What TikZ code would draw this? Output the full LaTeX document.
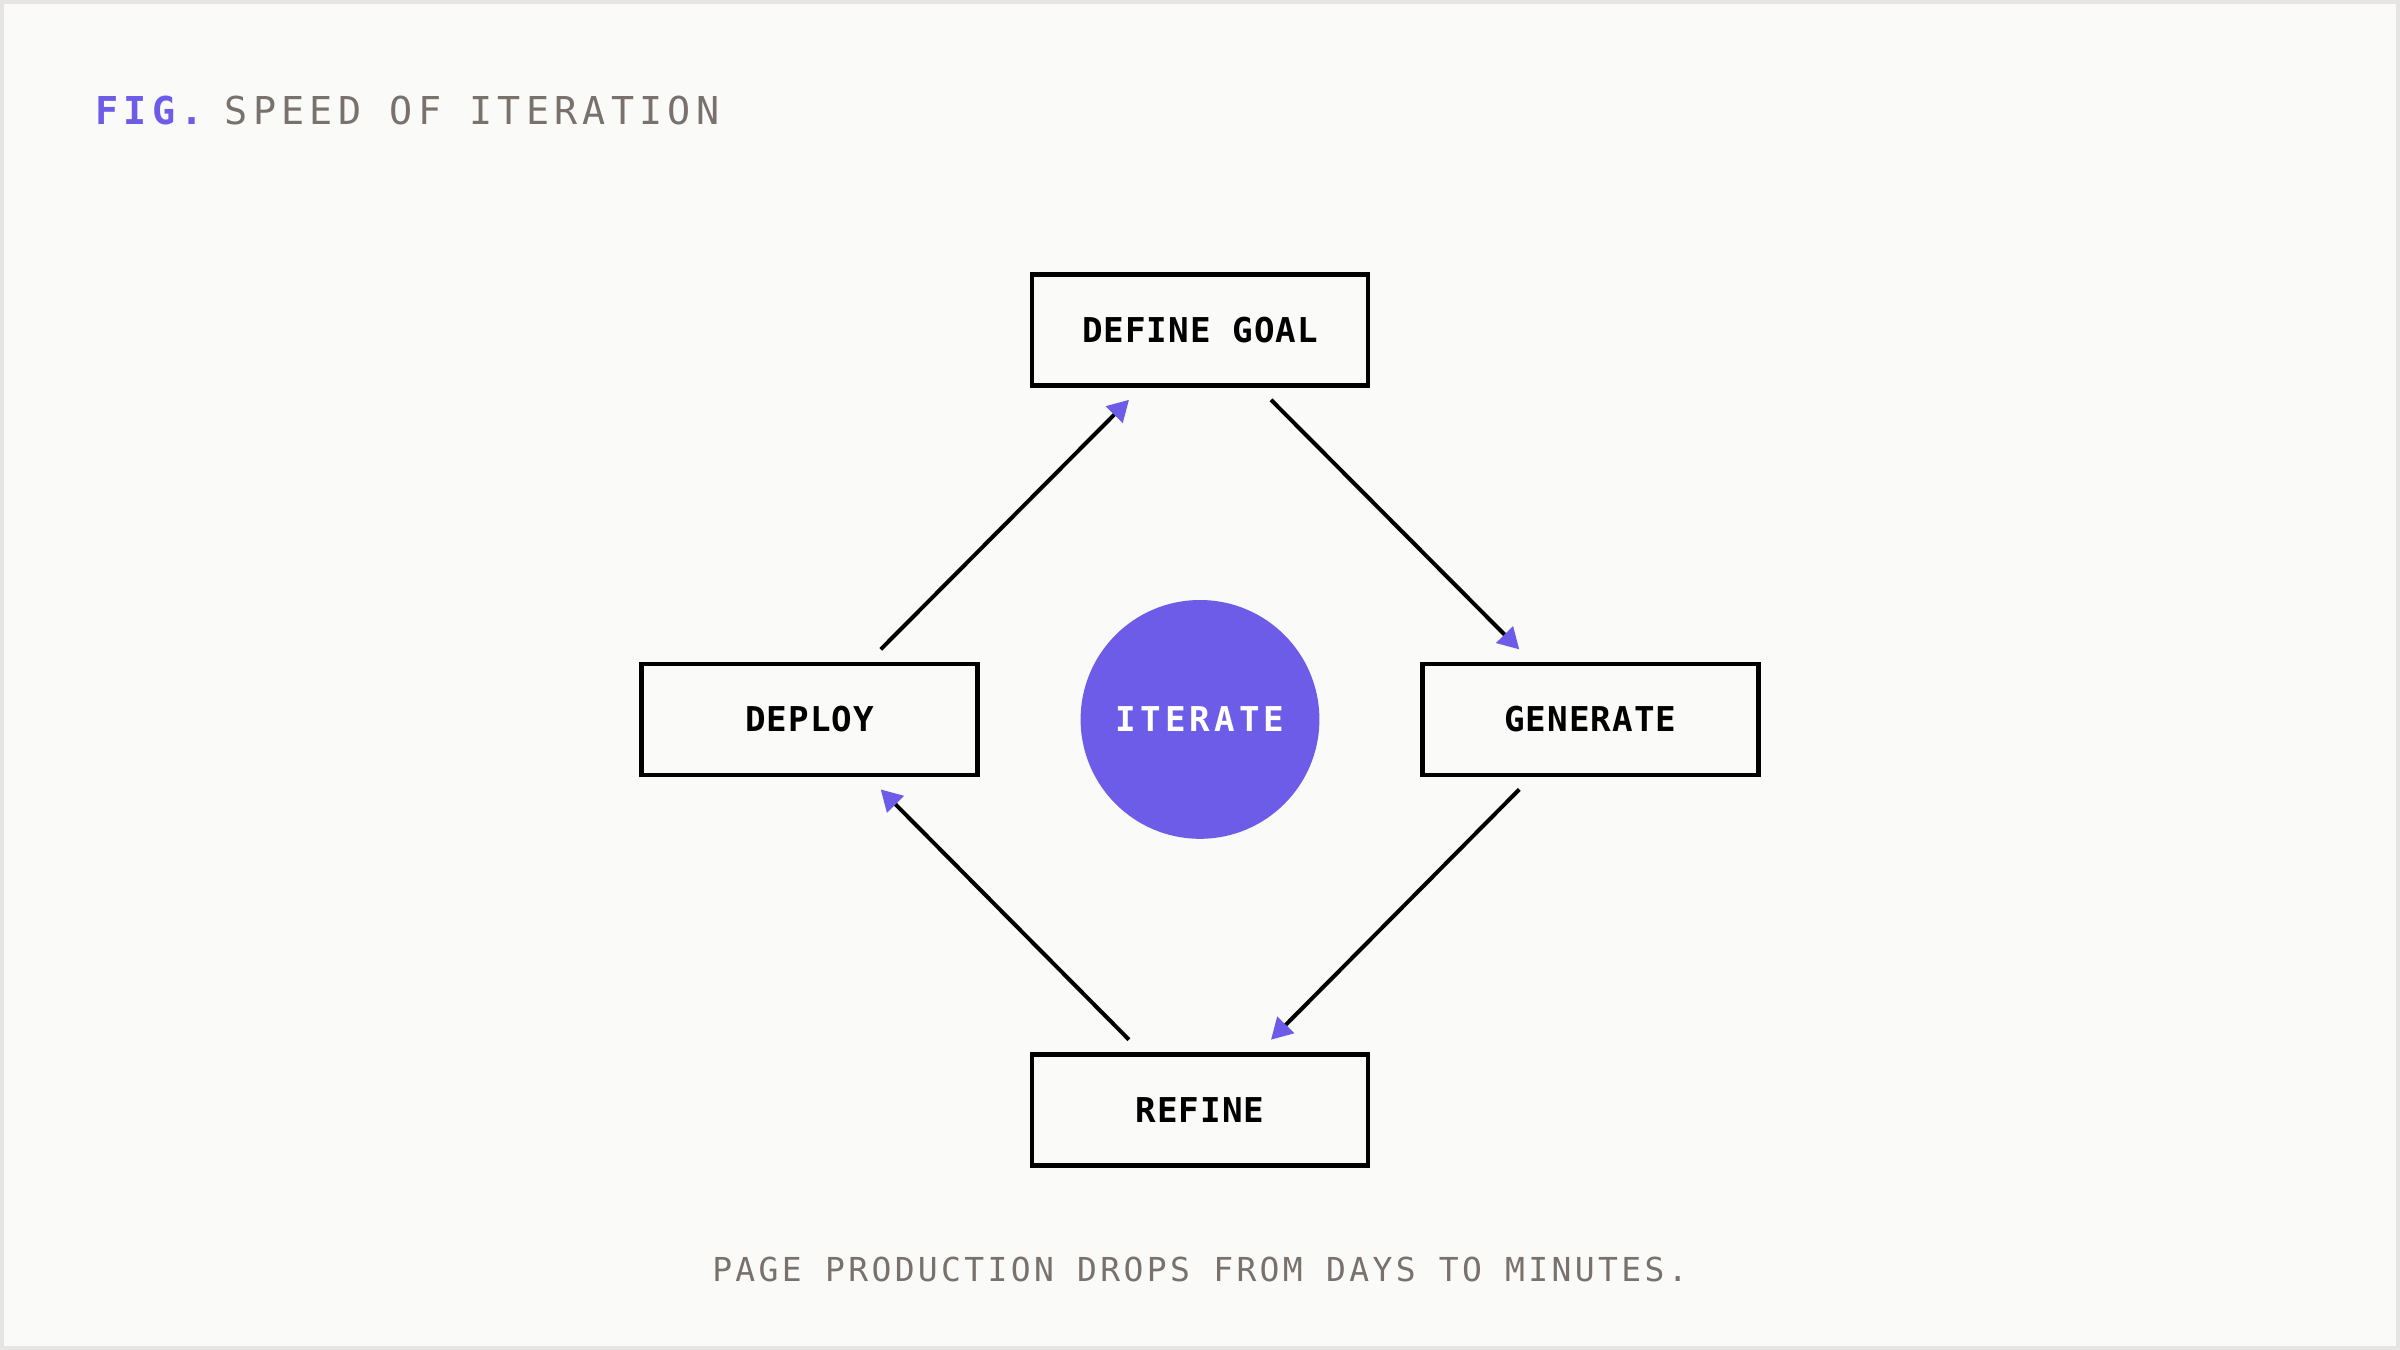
\documentclass[tikz,border=0pt]{standalone}
\usepackage{fontspec}
\usetikzlibrary{arrows.meta}
\newfontfamily\monofont{DejaVu Sans Mono}
\definecolor{accent}{HTML}{6C5CE7}
\definecolor{inkgray}{HTML}{78716C}
\definecolor{paper}{HTML}{FAFAF8}
\definecolor{edgegray}{HTML}{E7E5E4}
\tikzset{
  stepbox/.style={draw=black, line width=2.3pt, fill=paper, rectangle,
    minimum width=168pt, minimum height=55.5pt, inner sep=0pt, outer sep=0pt,
    font=\monofont\bfseries\fontsize{17.1}{18}\selectfont\addfontfeature{LetterSpace=3}},
  hub/.style={circle, fill=accent, draw=none, minimum size=119.4pt, inner sep=0pt,
    text=white, font=\monofont\bfseries\fontsize{17.1}{18}\selectfont\addfontfeature{LetterSpace=12}},
  flow/.style={draw=black, line width=2pt,
    -{Triangle[length=10.5pt,width=11.5pt,color=accent]}},
  titletext/.style={inner sep=0pt, anchor=base west},
}
\begin{document}
\begin{tikzpicture}[x=0.5pt, y=-0.5pt]
  \useasboundingbox (0,0) rectangle (2400,1350);
  \fill[paper] (0,0) rectangle (2400,1350);
  \draw[edgegray, line width=2pt] (2,2) rectangle (2398,1348);

  \node[titletext, text=accent, font=\monofont\bfseries\fontsize{19.2}{20}\selectfont\addfontfeature{LetterSpace=13}] (fig) at (95.5,124) {FIG.};
  \node[titletext, text=inkgray, font=\monofont\fontsize{19.2}{20}\selectfont\addfontfeature{LetterSpace=13.6}] (title) at (224.5,124) {SPEED OF ITERATION};

  \node[stepbox] (def) at (1200,329.8) {DEFINE GOAL};
  \node[stepbox] (dep) at (809.7,719.4) {DEPLOY};
  \node[stepbox] (gen) at (1590.3,719.4) {GENERATE};
  \node[stepbox] (ref) at (1200,1109.7) {REFINE};
  \node[hub] (hub) at (1200,719.4) {ITERATE};

  \draw[flow] ([xshift=35.5pt,yshift=-7.25pt]def.south) -- ([xshift=-35.5pt,yshift=7.25pt]gen.north);
  \draw[flow] ([xshift=-35.5pt,yshift=-7.25pt]gen.south) -- ([xshift=35.5pt,yshift=7.25pt]ref.north);
  \draw[flow] ([xshift=-35.5pt,yshift=7.25pt]ref.north) -- ([xshift=35.5pt,yshift=-7.25pt]dep.south);
  \draw[flow] ([xshift=35.5pt,yshift=7.25pt]dep.north) -- ([xshift=-35.5pt,yshift=-7.25pt]def.south);

  \node[inner sep=0pt, anchor=base, text=inkgray, font=\monofont\fontsize{16.5}{18}\selectfont\addfontfeature{LetterSpace=10.2}] (cap) at (1200,1281) {PAGE PRODUCTION DROPS FROM DAYS TO MINUTES.};
\end{tikzpicture}
\end{document}
